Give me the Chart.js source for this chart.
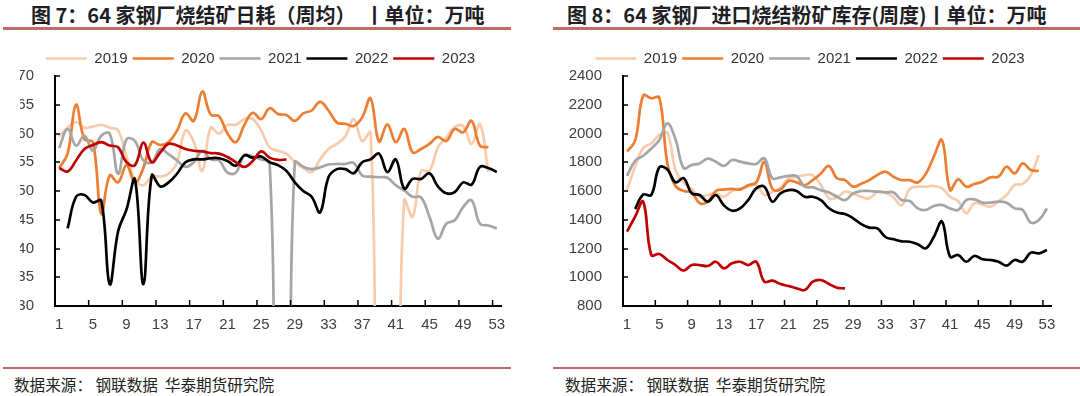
<!DOCTYPE html>
<html>
<head>
<meta charset="utf-8">
<script src="https://cdn.jsdelivr.net/npm/chart.js@4"></script>
<style>
    body { margin: 0; background: #fff; width: 1080px; height: 396px; overflow: hidden; position: relative; }
    .panel { position: absolute; top: 0; width: 540px; height: 396px; }
    .title { position: absolute; top: 4px; font-family: "Noto Sans CJK SC", sans-serif; font-weight: 700; font-size: 20px; line-height: 21px; color: #1e1e24; white-space: pre; }
    .rule { position: absolute; height: 2.5px; background: #c26a66; }
    .source { position: absolute; top: 376px; font-family: "Noto Sans CJK SC", sans-serif; font-size: 15.6px; line-height: 17px; color: #222; white-space: pre; }
    canvas { position: absolute; top: 40px; }
</style>
</head>
<body>
<div class="panel" style="left:0">
    <div class="title" style="left:31px">图 7：64 家钢厂烧结矿日耗（周均）  丨单位：万吨</div>
    <div class="rule" style="left:3px; width:508px; top:27px"></div>
    <canvas id="chart1" width="540" height="305" style="left:0"></canvas>
    <div class="rule" style="left:3px; width:508px; top:366.5px"></div>
    <div class="source" style="left:14px">数据来源： 钢联数据  华泰期货研究院</div>
</div>
<div class="panel" style="left:540px">
    <div class="title" style="left:27px">图 8：64 家钢厂进口烧结粉矿库存(周度)丨单位：万吨</div>
    <div class="rule" style="left:13px; width:527px; top:27px"></div>
    <canvas id="chart2" width="540" height="305" style="left:0"></canvas>
    <div class="rule" style="left:13px; width:527px; top:366.5px"></div>
    <div class="source" style="left:25px">数据来源： 钢联数据  华泰期货研究院</div>
</div>

<script>
// ============== DATA ==============
const weeks = [];
for (let w = 1; w <= 53; w++) weeks.push(String(w));

const years = ['2019', '2020', '2021', '2022', '2023'];
const colors = ['#f8cbad', '#ed7d31', '#a5a5a5', '#000000', '#c00000'];

// Chart 7: daily sinter consumption (10k t), weekly average
const sinter2019 = [59.5, 61, 62, 61, 61.2, 61.5, 61, 60.5, 56, 52, 51, 52.5, 52.5, 53, 55, 60.5, 58.5, 53.5, 61, 60,
    61.5, 61.5, 62.5, 62.5, 60.5, 57.6, 57, 56.5, 55, 54, 53.3, 55.5, 57.3, 58.2, 59.5, 62.5, 58.7, 60.2, 0, 0,
    0, 48.4, 45.5, 53.5, 53.5, 57.6, 59.3, 61.1, 61.3, 58.2, 61.6, 53.3, null];
const sinter2020 = [54, 56.5, 65, 59, 58.5, 46, 52.7, 51.5, 54.5, 51.5, 54, 58.5, 58, 58.5, 60.5, 63.5, 62.2, 67.3, 63.3, 63,
    60, 58.5, 61.5, 63.6, 62.5, 64.4, 63.4, 63.2, 62.2, 63.5, 64, 65.5, 64, 61.9, 61.7, 61.3, 62.8, 66.1, 58.6, 61.6,
    58.5, 60.8, 56.7, 57.3, 58.2, 59.4, 58.7, 60.8, 60.2, 62.2, 57.9, 57.6, null];
const sinter2021 = [57.5, 60.8, 57.9, 59.6, 57, 59.6, 60, 53, 59, 58.7, 55.3, 55, 57.3, 56.4, 55.3, 54.2, 55, 57, 55.5, 55.3,
    53.2, 53.2, 56.2, 56, 55.5, 55, 0, 0, 55, 54.2, 53.8, 54.1, 54.6, 54.7, 54.7, 54.9, 52.7, 52.5, 52.4, 52.3,
    51, 50.1, 49, 48.9, 45.5, 41.7, 44.3, 44.9, 47.2, 48.4, 44.3, 44, 43.5];
const sinter2022 = [null, 43.5, 49, 49.3, 48, 48.3, 33.8, 43, 46.8, 52, 33.8, 52.7, 50.8, 51.5, 53, 55, 55.5, 55.5, 55.7, 55.7,
    55.2, 54.4, 56.2, 55.8, 56, 55, 54.5, 53.5, 51.5, 50, 49, 46.3, 52.4, 53.8, 53.8, 53.1, 55, 55.5, 56.5, 53.3,
    55.5, 50.4, 52.1, 52.1, 53.1, 50.8, 49.6, 49.8, 51.5, 51.1, 54.2, 54, 53.3];
const sinter2023 = [54, 53.4, 55.3, 57.3, 58, 58.5, 57.9, 57.6, 55, 54.5, 58.4, 55, 56.7, 58.2, 57.9, 57.3, 57, 56.9, 56.6, 56.5,
    55.9, 55, 54.2, 55.2, 56.9, 55.8, 55.4, 55.5];

// Chart 8: imported sinter fines stock (10k t), weekly
const stock2019 = [1607, 1770, 1900, 1930, 1990, 2005, 1747, 1660, 1615, 1560, 1572, 1584, 1560, 1600, 1618, 1630, 1642, 1572, 1595, 1620,
    1690, 1700, 1710, 1710, 1641, 1549, 1555, 1595, 1580, 1560, 1549, 1595, 1590, 1555, 1500, 1615, 1630, 1630, 1635, 1618,
    1560, 1530, 1445, 1514, 1505, 1491, 1530, 1572, 1642, 1650, 1711, 1850, null];
const stock2020 = [1875, 1950, 2265, 2245, 2250, 1790, 1635, 1600, 1590, 1515, 1525, 1600, 1610, 1615, 1610, 1640, 1660, 1800, 1615, 1610,
    1670, 1660, 1640, 1676, 1722, 1774, 1688, 1676, 1630, 1650, 1676, 1711, 1734, 1699, 1676, 1676, 1660, 1720, 1840, 1955,
    1607, 1681, 1630, 1649, 1665, 1695, 1700, 1769, 1723, 1792, 1746, 1739, null];
const stock2021 = [1705, 1810, 1845, 1895, 1955, 2070, 1960, 1760, 1780, 1792, 1825, 1804, 1774, 1816, 1804, 1792, 1788, 1827, 1688, 1695,
    1705, 1704, 1630, 1625, 1606, 1590, 1560, 1537, 1583, 1600, 1600, 1595, 1590, 1590, 1537, 1530, 1479, 1468, 1496, 1503,
    1479, 1468, 1537, 1542, 1519, 1519, 1526, 1519, 1479, 1468, 1380, 1398, 1479];
const stock2022 = [null, 1475, 1575, 1572, 1765, 1750, 1660, 1689, 1584, 1572, 1526, 1572, 1500, 1463, 1479, 1537, 1618, 1630, 1526, 1584,
    1606, 1600, 1560, 1560, 1537, 1480, 1450, 1440, 1410, 1370, 1345, 1340, 1280, 1264, 1250, 1247, 1230, 1201, 1282, 1387,
    1143, 1155, 1108, 1148, 1125, 1120, 1108, 1081, 1120, 1108, 1171, 1166, 1189];
const stock2023 = [1317, 1421, 1526, 1155, 1162, 1120, 1085, 1046, 1085, 1085, 1078, 1108, 1062, 1097, 1108, 1085, 1108, 969, 976, 953,
    939, 923, 911, 969, 981, 953, 927, 923];

// ============== CHART HELPERS ==============

// small tick marks pointing into the plot (Excel style)
const insideTicks = {
    id: 'insideTicks',
    afterDraw(chart) {
        const {ctx, scales: {x, y}} = chart;
        ctx.save();
        ctx.strokeStyle = '#000';
        ctx.lineWidth = 1.5;
        y.ticks.forEach((t, i) => {
            const py = Math.round(y.getPixelForTick(i));
            ctx.beginPath();
            ctx.moveTo(x.left, py);
            ctx.lineTo(x.left + 5, py);
            ctx.stroke();
        });
        for (let i = 3; i < weeks.length - 1; i += 4) {
            const px = (x.getPixelForValue(i) + x.getPixelForValue(i + 1)) / 2;
            ctx.beginPath();
            ctx.moveTo(px, y.bottom);
            ctx.lineTo(px, y.bottom - 6);
            ctx.stroke();
        }
        ctx.restore();
    }
};

function makeChart(id, series, yMin, yMax, yStep, padLeft, axisWidth, padRight) {
    const ctx = document.getElementById(id).getContext('2d');
    return new Chart(ctx, {
        type: 'line',
        data: {
            labels: weeks,
            datasets: series.map((data, i) => ({
                label: years[i],
                data: data,
                borderColor: colors[i],
                backgroundColor: colors[i],
                borderWidth: 2.7,
                pointRadius: 0,
                tension: 0.4,
                fill: false,
                clip: 0,
                order: series.length - i   // later years drawn on top
            }))
        },
        options: {
            responsive: false,
            animation: false,
            devicePixelRatio: 1,
            layout: {
                padding: { left: padLeft, right: padRight, top: 6, bottom: 0 }
            },
            plugins: {
                tooltip: { enabled: false },
                legend: {
                    position: 'top',
                    labels: {
                        usePointStyle: true,
                        pointStyle: 'line',
                        pointStyleWidth: 41,
                        padding: 5,
                        color: '#333',
                        font: { family: 'Liberation Sans, Arial', size: 15 },
                        sort: (a, b) => a.datasetIndex - b.datasetIndex
                    }
                }
            },
            scales: {
                x: {
                    type: 'category',
                    offset: true,
                    grid: { display: false, drawTicks: false },
                    border: { display: true, color: '#000', width: 2 },
                    ticks: {
                        autoSkip: false,
                        maxRotation: 0,
                        padding: 10,
                        color: '#404040',
                        font: { family: 'Liberation Sans, Arial', size: 15 },
                        callback: (v, i) => (i % 4 === 0 ? weeks[i] : '')
                    },
                    afterFit: (scale) => { scale.height = 39; }
                },
                y: {
                    min: yMin,
                    max: yMax,
                    grid: { display: false, drawTicks: false },
                    border: { display: true, color: '#000', width: 2 },
                    ticks: {
                        stepSize: yStep,
                        padding: 21,
                        color: '#404040',
                        font: { family: 'Liberation Sans, Arial', size: 15 },
                        callback: (v) => String(v)
                    },
                    afterFit: (scale) => { scale.width = axisWidth; }
                }
            }
        },
        plugins: [insideTicks]
    });
}

makeChart('chart1', [sinter2019, sinter2020, sinter2021, sinter2022, sinter2023], 30, 70, 5, 20, 35, 39);
makeChart('chart2', [stock2019, stock2020, stock2021, stock2022, stock2023], 800, 2400, 200, 29, 54, 29);
</script>
</body>
</html>
